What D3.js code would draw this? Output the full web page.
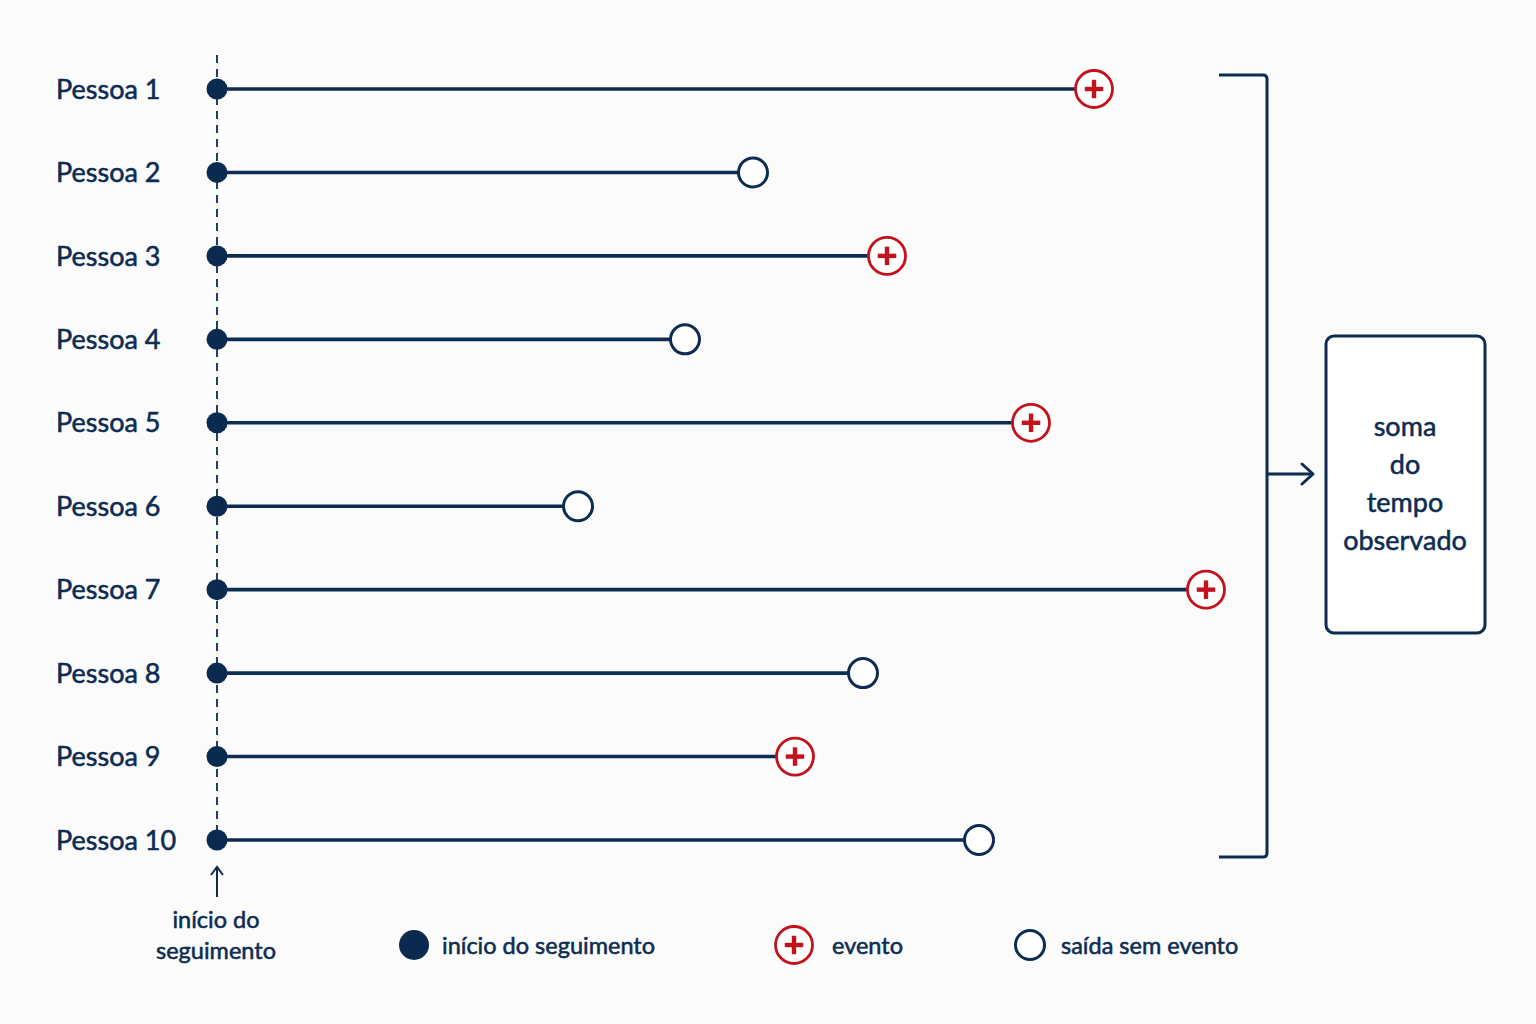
<!DOCTYPE html>
<html><head><meta charset="utf-8">
<script src="https://cdn.jsdelivr.net/npm/d3@7"></script>
<style>html,body{margin:0;padding:0;background:#fbfbfb;}svg{display:block;}</style>
</head><body>
<svg id="c" width="1536" height="1024"></svg>
<script>
const people = ["Pessoa 1","Pessoa 2","Pessoa 3","Pessoa 4","Pessoa 5","Pessoa 6","Pessoa 7","Pessoa 8","Pessoa 9","Pessoa 10"];
const followTime = [87.7, 53.6, 67.0, 46.8, 81.4, 36.1, 98.9, 64.6, 57.8, 76.2];
const outcome = ["evento","saída","evento","saída","evento","saída","evento","saída","evento","saída"];
const boxLines = ["soma","do","tempo","observado"];
const startLabel = ["início do","seguimento"];
const legendItems = ["início do seguimento","evento","saída sem evento"];

const NAVY = "#0c2c52", RED = "#c3121c", FONT = "Lato, 'Open Sans', sans-serif";
const svg = d3.select("#c");
svg.append("rect").attr("width",1536).attr("height",1024).attr("fill","#fbfbfb");

const x = d3.scaleLinear().domain([0,100]).range([217,1217]);
const y = d3.scalePoint().domain(people).range([89,840]);

function txt(sel, size){
  return sel.attr("font-family",FONT).attr("font-size",size).attr("fill",NAVY)
    .attr("stroke",NAVY).attr("stroke-width",0.55).attr("paint-order","stroke");
}

// dashed baseline
svg.append("line").attr("x1",x(0)).attr("x2",x(0)).attr("y1",55).attr("y2",850)
  .attr("stroke",NAVY).attr("stroke-width",1.8).attr("stroke-dasharray","8,6");

// labels
txt(svg.selectAll("text.lab").data(people).join("text").attr("class","lab")
  .attr("x",56).attr("y",d=>y(d)).attr("dy","0.36em"),27).text(d=>d);

const rows = people.map((p,i)=>({p, t:followTime[i], o:outcome[i]}));
svg.selectAll("line.seg").data(rows).join("line").attr("class","seg")
  .attr("x1",x(0)).attr("x2",d=>x(d.t)).attr("y1",d=>y(d.p)).attr("y2",d=>y(d.p))
  .attr("stroke",NAVY).attr("stroke-width",3.6);
svg.selectAll("circle.st").data(rows).join("circle").attr("class","st")
  .attr("cx",x(0)).attr("cy",d=>y(d.p)).attr("r",10.5).attr("fill","#0a2a4f");

function eventMarker(g, cx, cy, r){
  g.append("circle").attr("cx",cx).attr("cy",cy).attr("r",r).attr("fill","#fff").attr("stroke",RED).attr("stroke-width",2.8);
  const a = r*0.5;
  g.append("line").attr("x1",cx-a).attr("x2",cx+a).attr("y1",cy).attr("y2",cy).attr("stroke",RED).attr("stroke-width",4.4);
  g.append("line").attr("x1",cx).attr("x2",cx).attr("y1",cy-a).attr("y2",cy+a).attr("stroke",RED).attr("stroke-width",4.4);
}
function openMarker(g,cx,cy,r){
  g.append("circle").attr("cx",cx).attr("cy",cy).attr("r",r).attr("fill","#fff").attr("stroke",NAVY).attr("stroke-width",3);
}
rows.forEach(d=>{
  const g = svg.append("g");
  if(d.o==="evento") eventMarker(g, x(d.t), y(d.p), 18.5);
  else openMarker(g, x(d.t), y(d.p), 14.5);
});

// bracket
const bx = 1267, by0 = 75, by1 = 857;
svg.append("path").attr("d",`M1219,${by0} H${bx-4} Q${bx},${by0} ${bx},${by0+4} V${by1-4} Q${bx},${by1} ${bx-4},${by1} H1219`)
  .attr("fill","none").attr("stroke",NAVY).attr("stroke-width",3);
const ay = 474;
svg.append("line").attr("x1",bx).attr("x2",1312).attr("y1",ay).attr("y2",ay).attr("stroke",NAVY).attr("stroke-width",3);
svg.append("path").attr("d",`M1302,${ay-10} L1313,${ay} L1302,${ay+10}`).attr("fill","none").attr("stroke",NAVY).attr("stroke-width",3).attr("stroke-linecap","round").attr("stroke-linejoin","round");

// box
svg.append("rect").attr("x",1326).attr("y",336).attr("width",159).attr("height",297).attr("rx",8)
  .attr("fill","#fff").attr("stroke",NAVY).attr("stroke-width",3);
txt(svg.selectAll("text.box").data(boxLines).join("text").attr("class","box")
  .attr("x",1405).attr("y",(d,i)=>426+i*38).attr("dy","0.36em").attr("text-anchor","middle"),27).text(d=>d);

// start arrow + label
svg.append("line").attr("x1",217).attr("x2",217).attr("y1",897).attr("y2",868).attr("stroke",NAVY).attr("stroke-width",2);
svg.append("path").attr("d","M211,875 L217,867 L223,875").attr("fill","none").attr("stroke",NAVY).attr("stroke-width",2);
txt(svg.selectAll("text.sl").data(startLabel).join("text").attr("class","sl")
  .attr("x",216).attr("y",(d,i)=>920+i*31).attr("dy","0.36em").attr("text-anchor","middle"),23.5).text(d=>d);

// legend
const ly = 945;
svg.append("circle").attr("cx",414).attr("cy",ly).attr("r",15).attr("fill","#0a2a4f");
eventMarker(svg.append("g"), 794, ly, 18.5);
openMarker(svg.append("g"), 1030, ly, 14.5);
const lx = [442, 832, 1061];
txt(svg.selectAll("text.lg").data(legendItems).join("text").attr("class","lg")
  .attr("x",(d,i)=>lx[i]).attr("y",ly+1).attr("dy","0.36em"),23.5).text(d=>d);
</script>
</body></html>
